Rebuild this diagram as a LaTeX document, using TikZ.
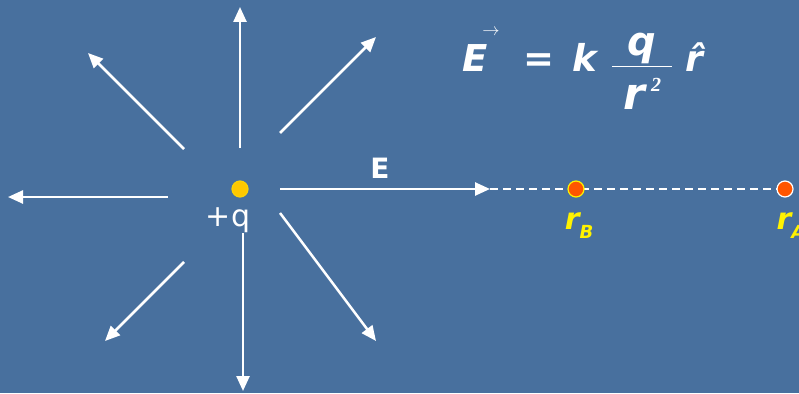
\documentclass[tikz,border=0pt]{standalone}
\usepackage{fontspec}
\setmainfont{DejaVu Sans}
\newfontfamily\serifit{Liberation Serif}
\usetikzlibrary{arrows.meta,positioning,calc}

\definecolor{slide}{RGB}{72,112,158}
\definecolor{chargegold}{RGB}{255,200,0}
\definecolor{pointred}{RGB}{255,85,0}

\begin{document}
\begin{tikzpicture}[x=1pt, y=-1pt,
    field/.style={draw=white, line width=2.5pt, -{Triangle[length=15pt,width=13pt]}},
    dot/.style={circle, inner sep=0pt, minimum size=16pt, line width=1.2pt},
    lbl/.style={text=white, inner sep=0pt, font=\fontsize{30}{32}\selectfont},
    rlabel/.style={text=yellow, inner sep=0pt, font=\bfseries\itshape\fontsize{30}{32}\selectfont}
]
\fill[slide] (0,0) rectangle (799,393);
\useasboundingbox (0,0) rectangle (799,393);

\coordinate (qc) at (240,189);
\coordinate (tipE) at (490,189);
\coordinate (pB) at (576,189);
\coordinate (pA) at (785,189);

% field lines round the charge
\foreach \sx/\sy/\ex/\ey in {0/-41/0/-182, 40/-56/136/-152, -56/-40/-152/-136, -72/8/-232/8,
    -56/73/-135/152, 3/44/3/202, 40/24/136/152}
  \draw[field] ($(qc)+(\sx,\sy)$) -- ($(qc)+(\ex,\ey)$);
\draw[field] ($(qc)+(40,0)$) -- (tipE);
\draw[white, line width=1.5pt, dash pattern=on 8pt off 5pt] (tipE) -- (pA);

\node[dot, fill=chargegold, draw=yellow!70!orange] (q) at (qc) {};
\node[lbl] (qlabel) at (228,220) {+q};
\node[lbl, font=\bfseries\fontsize{28}{30}\selectfont] (Elabel) at (380,168) {E};

\node[dot, fill=pointred, draw=yellow] (rB) at (pB) {};
\node[dot, fill=pointred, draw=white] (rA) at (pA) {};
\node[rlabel] (rBlabel) at (579,226) {r\raisebox{-0.3em}{\fontsize{18}{20}\selectfont B}};
\node[rlabel] (rAlabel) at (791,226) {r\raisebox{-0.3em}{\fontsize{18}{20}\selectfont A}};

% field of a point charge
\node[text=white, inner sep=0pt, anchor=base west, font=\bfseries\itshape\fontsize{37}{40}\selectfont] (eqn) at (462,72)
  {$\hbox{E\rlap{\kern-5pt\raisebox{36pt}{\normalfont\fontsize{19}{19}\selectfont$\rightarrow$}}}\hskip 36pt\hbox{=}\hskip 18pt\hbox{k}\hskip 14pt
   \displaystyle\frac{\hbox to 60pt{\hss\fontsize{40}{40}\selectfont q\hss}}
   {\hbox to 60pt{\hss\rule{0pt}{42pt}\fontsize{44}{44}\selectfont r\hskip 6pt\raisebox{18pt}{\serifit\itshape\fontsize{20}{20}\selectfont 2}\hss}}
   \hskip 12pt\hbox{\fontsize{36}{36}\selectfont\^{r}}$};
\end{tikzpicture}
\end{document}
